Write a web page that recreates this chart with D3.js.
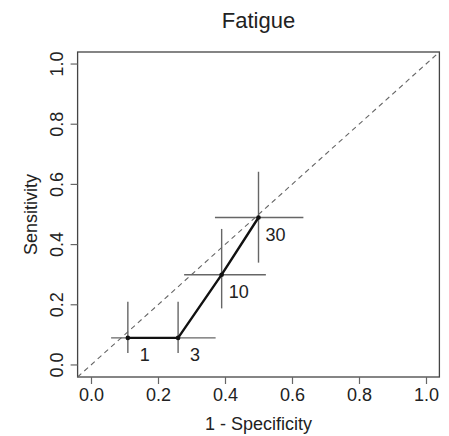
<!DOCTYPE html>
<html><head><meta charset="utf-8">
<script src="https://cdn.jsdelivr.net/npm/d3@7"></script>
<style>body{margin:0;background:#fff}svg{display:block}text{font-family:"Liberation Sans",Arial,sans-serif;fill:#222}</style>
</head><body>
<svg id="c" width="449" height="436"></svg>
<script>
const labels = ["1", "3", "10", "30"];
const fpr = [0.11, 0.26, 0.39, 0.50];
const tpr = [0.09, 0.09, 0.30, 0.49];
const fprLo = [0.06, 0.15, 0.278, 0.37];
const fprHi = [0.17, 0.372, 0.522, 0.634];
const tprLo = [0.04, 0.04, 0.188, 0.34];
const tprHi = [0.21, 0.21, 0.452, 0.642];
const tickVals = [0.0, 0.2, 0.4, 0.6, 0.8, 1.0];
const title = "Fatigue", xTitle = "1 - Specificity", yTitle = "Sensitivity";

const svg = d3.select("#c");
const L = 77.6, R = 439.4, T = 52, B = 377;
const x = d3.scaleLinear().domain([-0.04, 1.04]).range([L, R]);
const y = d3.scaleLinear().domain([-0.04, 1.04]).range([B, T]);
const fmt = d3.format(".1f");

// box
svg.append("rect").attr("x", L).attr("y", T).attr("width", R - L).attr("height", B - T)
  .attr("fill", "none").attr("stroke", "#444").attr("stroke-width", 1.3);

// axes
const xa = svg.append("g").attr("transform", `translate(0,${B})`)
  .call(d3.axisBottom(x).tickValues(tickVals).tickFormat(fmt).tickSize(7).tickSizeOuter(0).tickPadding(4));
const ya = svg.append("g").attr("transform", `translate(${L},0)`)
  .call(d3.axisLeft(y).tickValues(tickVals).tickFormat(fmt).tickSize(7).tickSizeOuter(0));
[xa, ya].forEach(g => {
  g.select(".domain").remove();
  g.selectAll(".tick line").attr("stroke", "#666").attr("stroke-width", 1.2);
  g.selectAll("text").style("font-size", "18px").attr("fill", "#222");
});
xa.selectAll("text").attr("y", 11);
ya.selectAll("text").attr("x", 0).attr("dy", 0).attr("text-anchor", "middle")
  .attr("transform", function(d){ return `translate(${63 - L},${y(d)}) rotate(-90)`; })
  .attr("y", 0);
ya.selectAll(".tick").attr("transform", null);
ya.selectAll(".tick line").attr("transform", d => `translate(0,${y(d)})`);

// diagonal
svg.append("line").attr("x1", x(-0.04)).attr("y1", y(-0.04)).attr("x2", x(1.04)).attr("y2", y(1.04))
  .attr("stroke", "#666").attr("stroke-width", 1.1).attr("stroke-dasharray", "5,4");

// error bars
const idx = d3.range(fpr.length);
const eb = svg.append("g").attr("stroke", "#666").attr("stroke-width", 1.4);
eb.selectAll(".h").data(idx).join("line")
  .attr("x1", i => x(fprLo[i])).attr("x2", i => x(fprHi[i]))
  .attr("y1", i => y(tpr[i])).attr("y2", i => y(tpr[i]));
eb.selectAll(".v").data(idx).join("line")
  .attr("x1", i => x(fpr[i])).attr("x2", i => x(fpr[i]))
  .attr("y1", i => y(tprLo[i])).attr("y2", i => y(tprHi[i]));

// curve
svg.append("path").datum(idx)
  .attr("d", d3.line().x(i => x(fpr[i])).y(i => y(tpr[i])))
  .attr("fill", "none").attr("stroke", "#111").attr("stroke-width", 2.4);
svg.selectAll(".pt").data(idx).join("circle")
  .attr("cx", i => x(fpr[i])).attr("cy", i => y(tpr[i])).attr("r", 2.3).attr("fill", "#111");

// point labels
svg.selectAll(".lb").data(idx).join("text")
  .attr("x", i => x(fpr[i]) + 17).attr("y", i => y(tpr[i]) + 17).attr("dy", "0.35em")
  .attr("text-anchor", "middle").style("font-size", "18px").text(i => labels[i]);

// titles
svg.append("text").attr("x", (L + R) / 2).attr("y", 28).attr("text-anchor", "middle")
  .style("font-size", "22px").text(title);
svg.append("text").attr("x", (L + R) / 2).attr("y", 430).attr("text-anchor", "middle")
  .style("font-size", "18px").text(xTitle);
svg.append("text").attr("transform", `translate(37,${(T + B) / 2}) rotate(-90)`).attr("text-anchor", "middle")
  .style("font-size", "18px").text(yTitle);
</script>
</body></html>
